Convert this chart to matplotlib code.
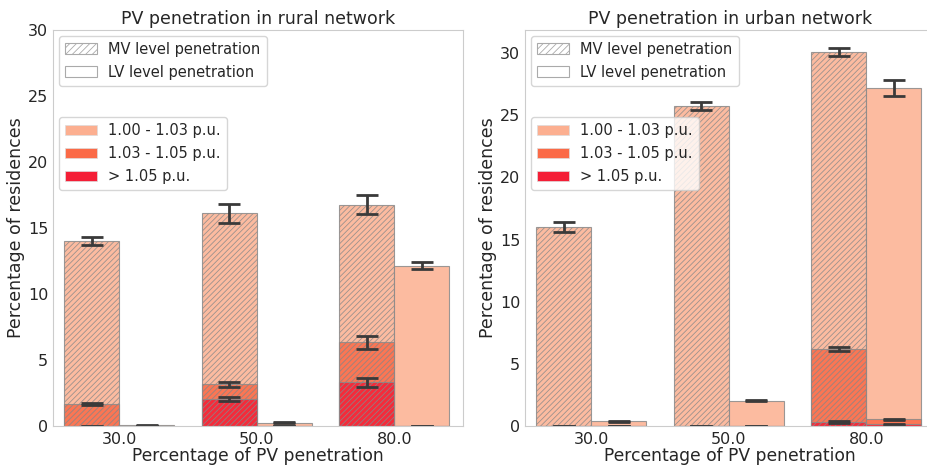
import numpy as np
import matplotlib.pyplot as plt
from matplotlib.patches import Patch
import seaborn as sns

sns.set_style("white")
plt.rcParams['font.family'] = ['DejaVu Sans']
plt.rcParams['hatch.linewidth'] = 0.6

pv_levels = ["30.0", "50.0", "80.0"]
band_labels = ["1.00 - 1.03 p.u.", "1.03 - 1.05 p.u.", "> 1.05 p.u."]
band_colors = ["#fcaf90", "#fb6a47", "#f41e36"]

# rural network, rows = voltage bands, cols = PV level
rural_mv = [[14.02, 16.10, 16.75],
            [1.67, 3.16, 6.34],
            [0.0, 2.04, 3.31]]
rural_mv_err = [[0.30, 0.70, 0.72],
                [0.05, 0.20, 0.50],
                [0.02, 0.15, 0.33]]
rural_lv = [[0.05, 0.25, 12.15],
            [0.0, 0.0, 0.0],
            [0.0, 0.0, 0.0]]
rural_lv_err = [[0.02, 0.05, 0.25],
                [0.0, 0.0, 0.02],
                [0.0, 0.0, 0.0]]

# urban network
urban_mv = [[15.99, 25.73, 30.08],
            [0.0, 0.0, 6.20],
            [0.0, 0.0, 0.32]]
urban_mv_err = [[0.40, 0.30, 0.30],
                [0.02, 0.02, 0.15],
                [0.0, 0.0, 0.05]]
urban_lv = [[0.37, 2.03, 27.20],
            [0.0, 0.0, 0.55],
            [0.0, 0.0, 0.13]]
urban_lv_err = [[0.05, 0.03, 0.63],
                [0.02, 0.02, 0.05],
                [0.0, 0.0, 0.04]]


def draw_panel(ax, mv, mv_err, lv, lv_err, title):
    x = np.arange(len(pv_levels))
    w = 0.4
    for k in range(3):
        ax.bar(x - w / 2, mv[k], width=w, color=band_colors[k], alpha=0.85,
               edgecolor="#8a8a8a", linewidth=0.8, hatch="//////")
        ax.bar(x + w / 2, lv[k], width=w, color=band_colors[k], alpha=0.85,
               edgecolor="#8a8a8a", linewidth=0.8)
        ax.errorbar(x - w / 2, mv[k], yerr=mv_err[k], fmt="none",
                    ecolor="#3a3a3a", elinewidth=2, capsize=8, capthick=2)
        ax.errorbar(x + w / 2, lv[k], yerr=lv_err[k], fmt="none",
                    ecolor="#3a3a3a", elinewidth=2, capsize=8, capthick=2)
    ax.set_xticks(x)
    ax.set_xticklabels(pv_levels, fontsize=11.5)
    ax.tick_params(axis="y", labelsize=11.5, pad=0)
    ax.tick_params(axis="x", pad=1)
    ax.set_xlim(-0.48, 2.5)
    ax.set_title(title, fontsize=12.5, pad=4)
    ax.set_xlabel("Percentage of PV penetration", fontsize=12.3, labelpad=0)
    ax.set_ylabel("Percentage of residences", fontsize=12.5, labelpad=2)
    for s in ax.spines.values():
        s.set_color("#cccccc")

    h1 = [Patch(facecolor="white", edgecolor="#aaaaaa", hatch="/////", linewidth=0.8),
          Patch(facecolor="white", edgecolor="#aaaaaa", linewidth=0.8)]
    leg1 = ax.legend(h1, ["MV level penetration", "LV level penetration"],
                     loc="upper left", bbox_to_anchor=(0.0, 1.0), fontsize=10.5,
                     handlelength=2.2, labelspacing=0.55, framealpha=0.8,
                     borderaxespad=0.4)
    ax.add_artist(leg1)
    h2 = [Patch(facecolor=c, edgecolor="#dddddd", linewidth=0.5) for c in band_colors]
    ax.legend(h2, band_labels, loc="upper left", bbox_to_anchor=(0.0, 0.795),
              fontsize=10.5, handlelength=2.2, labelspacing=0.55, framealpha=0.8,
              borderaxespad=0.4)


fig = plt.figure(figsize=(9.28, 4.65), dpi=100)
ax1 = fig.add_axes([53 / 928, 39 / 465, 410 / 928, 396 / 465])
ax2 = fig.add_axes([525 / 928, 39 / 465, 410 / 928, 396 / 465])

draw_panel(ax1, rural_mv, rural_mv_err, rural_lv, rural_lv_err,
           "PV penetration in rural network")
ax1.set_ylim(0, 30)
draw_panel(ax2, urban_mv, urban_mv_err, urban_lv, urban_lv_err,
           "PV penetration in urban network")
ax2.set_ylim(0, 31.85)

fig.savefig("out.png", dpi=100)
